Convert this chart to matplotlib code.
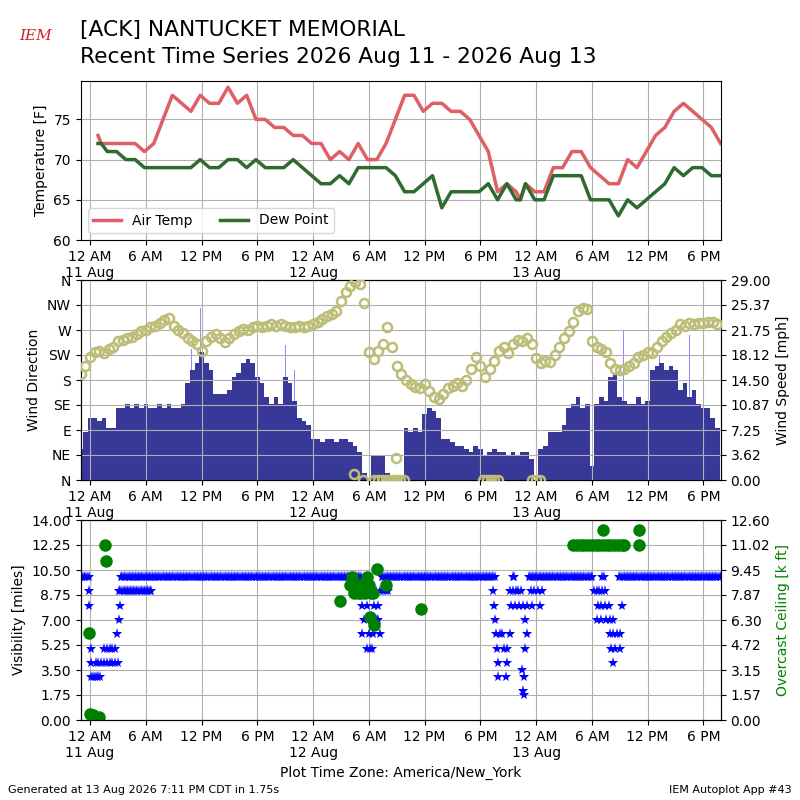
import datetime
import math
import matplotlib
matplotlib.use("Agg")
import matplotlib.pyplot as plt
import matplotlib.dates as mdates
from matplotlib.ticker import FuncFormatter
import numpy as np

BASE = datetime.datetime(2026, 8, 11, 0, 0)

# hourly obs (hours after 12 AM 11 Aug); two specials at 1.2 and 46.3
obs_hours = [0.85, 1.2] + [k + 0.85 for k in range(1, 46)] + [46.3] + [k + 0.85 for k in range(46, 68)]
air_temp = [73, 72, 72, 72, 72, 72, 71, 72, 75, 78, 77, 76, 78, 77, 77, 79, 77, 78, 75, 75,
            74, 74, 73, 73, 72, 72, 70, 71, 70, 72, 70, 70, 72, 75, 78, 78, 76, 77, 77, 76,
            76, 75, 73, 71, 66, 67, 66, 65, 67, 66, 66, 69, 69, 71, 71, 69, 68, 67, 67, 70,
            69, 71, 73, 74, 76, 77, 76, 75, 74, 72]
dew_point = [72, 72, 71, 71, 70, 70, 69, 69, 69, 69, 69, 69, 70, 69, 69, 70, 70, 69, 70, 69,
             69, 69, 70, 69, 68, 67, 67, 68, 67, 69, 69, 69, 69, 68, 66, 66, 67, 68, 64, 66,
             66, 66, 66, 67, 65, 67, 65, 65, 67, 65, 65, 68, 68, 68, 68, 65, 65, 65, 63, 65,
             64, 65, 66, 67, 69, 68, 69, 69, 68, 68]

# wind, every 30 minutes starting 11 PM 10 Aug
wind_start = -1.0
wind_dir = [190, 205, 222, 230, 232, 228, 235, 240, 250, 252, 255, 258, 262, 268, 270, 275,
            278, 282, 288, 292, 278, 270, 265, 255, 250, 245, 232, 250, 258, 262, 255, 248,
            255, 262, 268, 272, 270, 275, 278, 276, 278, 280, 278, 280, 278, 276, 275, 278,
            276, 278, 280, 285, 290, 295, 298, 305, 322, 338, 350, 356, 352, 318, 230, 218,
            232, 245, 275, 240, 205, 190, 180, 172, 168, 165, 172, 160, 150, 145, 155, 165,
            170, 175, 170, 180, 200, 222, 205, 185, 200, 215, 232, 240, 228, 245, 252, 250,
            255, 245, 220, 210, 215, 212, 225, 240, 255, 268, 285, 305, 310, 308, 250, 240,
            235, 230, 210, 200, 198, 200, 205, 210, 222, 225, 230, 228, 240, 250, 258, 265,
            270, 280, 278, 282, 280, 283, 282, 284, 285, 280]
wind_speed = [4.5, 7, 9, 9, 8.5, 9, 7.5, 7.5, 10.5, 10.5, 11, 10.5, 11, 10.5, 11, 10.5,
              10.5, 11, 10.5, 11, 10.5, 10.5, 11, 14, 16, 17, 18.5, 17, 16, 12.5, 12.5, 12.5,
              13, 15, 15.5, 17, 17.5, 17, 15, 14, 12, 11, 12, 11, 15, 14, 11.5, 9,
              8.5, 8, 6, 6, 5.5, 6, 6, 5.5, 6, 6, 5.5, 5, 4, 1, 0, 3.5,
              3.5, 3.5, 1, 0.7, 0.7, 0.5, 7.5, 7, 7.5, 7, 9.5, 10.5, 10, 9, 6, 6,
              5.5, 5, 5, 4.5, 4, 5, 4.5, 3.5, 4, 4.5, 4, 4, 3.5, 4, 3.5, 4,
              4, 3, 0, 4.5, 5, 7, 7, 7, 8, 10.5, 11, 12, 10.5, 11, 2, 11,
              12, 11.5, 15, 15.5, 12, 11.5, 11, 11, 12, 11, 11.5, 16, 16.5, 17, 16, 16.5,
              16, 13, 14, 12, 13, 11, 10.5, 10.5, 9, 7.5]
calm_hours = [28.4, 29.4, 30.6, 31.0, 31.4, 31.8, 32.2, 32.6, 32.9, 33.0, 33.4, 33.8,
              42.3, 42.7, 43.1, 43.5, 43.9, 47.6, 48.0, 48.4]
calm_dir = [10, 0, 0, 0, 0, 0, 0, 0, 40, 0, 0, 0, 0, 0, 0, 0, 0, 0, 0, 0]
gust_hours = [10.9, 11.9, 12.9, 17.96, 18.3, 19.9, 21.0, 22.0, 56.9, 57.4, 61.3, 62.96, 64.5, 65.3, 66.5]
gust_speed = [19, 25, 24, 24, 27.5, 24, 19.6, 16, 21.7, 21.7, 18, 19.6, 21, 19.6, 17.3]

# visibility: steady runs (start hour, end hour, miles) and scattered obs
vis_runs = [(-1.0, -0.2, 10), (3.3, 29.2, 10), (3.1, 6.6, 9), (31.4, 43.6, 10), (45.5, 45.7, 10),
            (47.2, 54.1, 10), (55.1, 55.3, 10), (56.9, 67.9, 10)]
vis_hours = [-0.15, -0.1, 0.05, 0.05, 0.1, 0.3, 0.5, 0.7, 0.9, 1.1, 0.6, 0.9, 1.2, 1.5, 1.8,
             2.1, 2.4, 2.7, 3.0, 1.5, 1.8, 2.1, 2.4, 2.7, 2.9, 3.08, 3.2,
             29.3, 29.3, 29.5, 29.5, 29.8, 29.8, 30.0, 30.1, 30.2, 30.4, 30.5, 30.6, 30.8, 31.0,
             31.0, 31.2, 31.2, 31.5, 31.8, 32.1, 30.3, 30.9,
             43.4, 43.5, 43.6, 43.7, 43.8, 43.9, 43.9, 44.1, 44.3, 44.5, 44.8, 44.9, 44.9,
             45.2, 45.2, 45.5, 45.8, 46.1, 46.4, 45.3, 45.7, 46.2, 46.6, 47.0, 47.5,
             46.8, 46.8, 46.5, 46.7, 46.6, 46.65, 47.0, 47.4, 47.8, 48.2, 48.6, 48.4,
             54.2, 54.5, 54.8, 55.1, 55.4, 54.7, 55.0, 55.4, 55.8, 54.5, 55.0, 55.5, 56.0,
             56.3, 55.9, 56.3, 56.7, 57.0, 56.1, 56.5, 57.0, 56.3, 57.2]
vis_miles = [9, 8, 5, 4, 3, 3, 3, 3, 3, 3, 4, 4, 4, 4, 4,
             4, 4, 4, 4, 5, 5, 5, 5, 5, 6, 7, 8,
             8, 6, 9, 7, 5, 8, 6, 5, 7, 6, 7, 8, 9, 8,
             7, 9, 6, 9, 9, 9, 5, 7,
             9, 8, 7, 6, 5, 4, 3, 6, 6, 5, 3, 4, 5,
             6, 9, 9, 9, 9, 9, 8, 8, 8, 8, 8, 8,
             7, 5, 3.5, 3, 2, 1.75, 6, 9, 9, 9, 9, 8,
             9, 9, 9, 9, 9, 8, 8, 8, 8, 7, 7, 7, 7,
             7, 6, 6, 6, 6, 5, 5, 5, 4, 8]

ceil_hours = [-0.08, 0.03, 0.3, 0.56, 0.92, 1.64, 1.75,
              26.85, 28.0, 28.2, 28.4, 28.6, 28.8, 29.0, 29.2, 29.4, 29.6, 29.8, 30.0, 30.15,
              30.2, 30.4, 30.5, 30.9, 31.8, 35.6,
              52.0, 52.4, 52.8, 53.2, 53.6, 54.0, 54.4, 54.8, 55.2, 55.6, 56.0, 56.4, 56.8, 57.2,
              57.4, 55.2, 59.1, 59.1]
ceil_kft = [5.5, 0.4, 0.3, 0.2, 0.2, 11.0, 10.0,
            7.5, 8.5, 9.0, 8.0, 8.5, 8.0, 8.5, 8.0, 8.5, 8.0, 9.0, 8.5, 6.5,
            8.0, 8.0, 6.0, 9.5, 8.5, 7.0,
            11.0, 11.0, 11.0, 11.0, 11.0, 11.0, 11.0, 11.0, 11.0, 11.0, 11.0, 11.0, 11.0, 11.0,
            11.0, 12.0, 12.0, 11.0]


def to_dt(hours):
    return [BASE + datetime.timedelta(hours=h) for h in hours]


def fmt_time(x, pos=None):
    d = mdates.num2date(x)
    if d.hour == 0:
        return "12 AM\n" + d.strftime("%d %b")
    h = d.hour % 12
    if h == 0:
        h = 12
    return "%d %s" % (h, "AM" if d.hour < 12 else "PM")


def fmt_trunc(v, pos=None):
    return "%.2f" % (math.floor(v * 100 + 1e-6) / 100.0)


xmin = BASE - datetime.timedelta(hours=1.0)
xmax = BASE + datetime.timedelta(hours=67.87)

fig = plt.figure(figsize=(8, 8), dpi=100)
ax1 = fig.add_axes([0.101, 0.70, 0.80, 0.199])
ax2 = fig.add_axes([0.101, 0.40, 0.80, 0.25])
ax3 = fig.add_axes([0.101, 0.10, 0.80, 0.25])

# temperature
t_obs = to_dt(obs_hours)
ax1.plot(t_obs, air_temp, color="#de5f66", lw=2.5, label="Air Temp")
ax1.plot(t_obs, dew_point, color="#2f6b30", lw=2.5, label="Dew Point")
ax1.set_ylim(60, 79.8)
ax1.set_yticks([60, 65, 70, 75])
ax1.set_ylabel("Temperature [F]")
ax1.legend(loc="lower left", ncol=2)

# wind
ax2b = ax2.twinx()
ax2b.set_zorder(ax2.get_zorder() - 1)
ax2.patch.set_visible(False)
w_times = to_dt([wind_start + 0.5 * i for i in range(len(wind_speed))])
ax2b.bar(to_dt(gust_hours), gust_speed, width=0.0025, color="#8c8cff", zorder=1)
ax2b.bar(w_times, wind_speed, width=1 / 48.0, color="#383899", zorder=2)
ax2b.set_ylim(0, 29)
ax2b.set_yticks(np.linspace(0, 29, 9))
ax2b.yaxis.set_major_formatter(FuncFormatter(fmt_trunc))
ax2b.set_ylabel("Wind Speed [mph]")
d_times = to_dt([wind_start + 0.5 * i for i in range(len(wind_dir))])
ax2.plot(d_times, wind_dir, "o", mfc="none", mec="#bdbd78", mew=1.8, ms=6.5, zorder=5)
ax2.plot(to_dt(calm_hours), calm_dir, "o", mfc="none", mec="#bdbd78", mew=1.8, ms=6.5, zorder=5)
ax2.set_ylim(0, 360)
ax2.set_yticks(range(0, 361, 45))
ax2.set_yticklabels(["N", "NE", "E", "SE", "S", "SW", "W", "NW", "N"])
ax2.set_ylabel("Wind Direction")

# visibility and ceiling
vh, vv = [], []
for s, e, v in vis_runs:
    n = int(round((e - s) * 6)) + 1
    for i in range(n):
        vh.append(s + i / 6.0)
        vv.append(v)
ax3.plot(to_dt(vh), vv, "*", color="blue", ms=8, mew=0)
ax3.plot(to_dt(vis_hours), vis_miles, "*", color="blue", ms=8, mew=0)
ax3.set_ylim(0, 14)
ax3.set_yticks(np.linspace(0, 14, 9))
ax3.yaxis.set_major_formatter(FuncFormatter(fmt_trunc))
ax3.set_ylabel("Visibility [miles]")
ax3b = ax3.twinx()
ax3b.plot(to_dt(ceil_hours), ceil_kft, "o", color="green", ms=8)
ax3b.set_ylim(0, 12.6)
ax3b.set_yticks(np.linspace(0, 12.6, 9))
ax3b.yaxis.set_major_formatter(FuncFormatter(fmt_trunc))
ax3b.set_ylabel("Overcast Ceiling [k ft]", color="green")
ax3.set_xlabel("Plot Time Zone: America/New_York")

for ax in (ax1, ax2, ax3, ax2b, ax3b):
    ax.set_xlim(xmin, xmax)
for ax in (ax1, ax2, ax3):
    ax.grid(True)
    ax.xaxis.set_major_locator(mdates.HourLocator(byhour=[0, 6, 12, 18]))
    ax.xaxis.set_major_formatter(FuncFormatter(fmt_time))

fig.text(0.1, 0.9625, "[ACK] NANTUCKET MEMORIAL", fontsize=15.7, va="center")
fig.text(0.1, 0.929, "Recent Time Series 2026 Aug 11 - 2026 Aug 13", fontsize=15.7, va="center")
fig.text(0.045, 0.955, "IEM", fontsize=11, color="#cc2222", style="italic",
         family="DejaVu Serif", ha="center", va="center")
fig.text(0.01, 0.012, "Generated at 13 Aug 2026 7:11 PM CDT in 1.75s", fontsize=8, va="center")
fig.text(0.99, 0.012, "IEM Autoplot App #43", fontsize=8, va="center", ha="right")

fig.savefig("out.png", dpi=100)
